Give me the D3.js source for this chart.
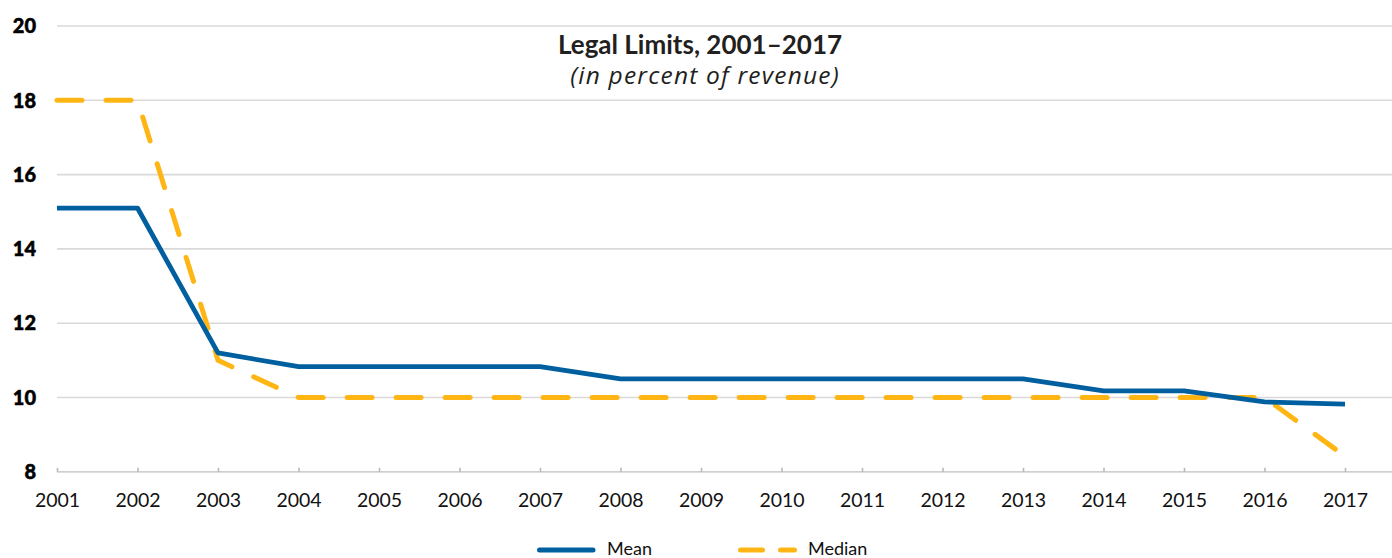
<!DOCTYPE html>
<html>
<head>
<meta charset="utf-8">
<script src="https://cdn.jsdelivr.net/npm/d3@7"></script>
<style>
  html, body { margin: 0; padding: 0; background: #fff; }
  svg { display: block; font-family: Lato, "Open Sans", sans-serif; }
</style>
</head>
<body>
<svg id="chart" width="1392" height="558"></svg>
<script>
// Legal limits in percent of revenue, 2001–2017
const years = [2001, 2002, 2003, 2004, 2005, 2006, 2007, 2008, 2009,
               2010, 2011, 2012, 2013, 2014, 2015, 2016, 2017];
const meanValues = [15.1, 15.1, 11.2, 10.83, 10.83, 10.83, 10.83, 10.5, 10.5,
                    10.5, 10.5, 10.5, 10.5, 10.18, 10.18, 9.88, 9.82];
const medianValues = [18, 18, 11, 10, 10, 10, 10, 10, 10,
                      10, 10, 10, 10, 10, 10, 10, 8.42];
const yTicks = [8, 10, 12, 14, 16, 18, 20];
const seriesNames = ["Mean", "Median"];

const svg = d3.select("#chart");
const W = 1392;
const plotLeft = 57, plotRight = 1345, plotTop = 26, plotBottom = 471.8;

const x = d3.scalePoint().domain(years).range([plotLeft, plotRight]);
const y = d3.scaleLinear().domain([8, 20]).range([plotBottom, plotTop]);

const blue = "#005f9f";
const gold = "#ffb614";

// horizontal gridlines
svg.append("g")
  .selectAll("line")
  .data(yTicks)
  .join("line")
  .attr("x1", plotLeft).attr("x2", W)
  .attr("y1", d => y(d)).attr("y2", d => y(d))
  .attr("stroke", "#d9d9d9")
  .attr("stroke-width", 1.6);

// y-axis labels
svg.append("g")
  .selectAll("text")
  .data(yTicks)
  .join("text")
  .attr("x", 36)
  .attr("y", d => y(d))
  .attr("dy", "0.36em")
  .attr("text-anchor", "end")
  .attr("font-size", 20)
  .attr("font-weight", 900)
  .attr("fill", "#000")
  .attr("stroke", "#000")
  .attr("stroke-width", 0.5)
  .text(d => d);

// x axis
const xAxis = d3.axisBottom(x).tickSizeInner(-4).tickSizeOuter(0).tickPadding(21);
const gx = svg.append("g")
  .attr("transform", `translate(0,${plotBottom})`)
  .call(xAxis);
gx.select(".domain")
  .attr("d", `M${plotLeft},0H${W}`)
  .attr("stroke", "#cfcfcf").attr("stroke-width", 1.6);
gx.selectAll(".tick line").attr("stroke", "#b8b8b8").attr("stroke-width", 1.6);
gx.selectAll(".tick text")
  .attr("font-size", 19.5)
  .attr("font-family", "Lato, sans-serif")
  .attr("fill", "#111");

// series lines
const line = d3.line().x((d, i) => x(years[i])).y(d => y(d));

svg.append("path")
  .datum(medianValues)
  .attr("d", line)
  .attr("fill", "none")
  .attr("stroke", gold)
  .attr("stroke-width", 5)
  .attr("stroke-linecap", "round")
  .attr("stroke-linejoin", "round")
  .attr("stroke-dasharray", "25,24");

svg.append("path")
  .datum(meanValues)
  .attr("d", line)
  .attr("fill", "none")
  .attr("stroke", blue)
  .attr("stroke-width", 4.8)
  .attr("stroke-linejoin", "round");

// title
svg.append("text")
  .attr("x", 700).attr("y", 54)
  .attr("text-anchor", "middle")
  .attr("font-size", 26)
  .attr("font-weight", 700)
  .attr("fill", "#231f20")
  .text("Legal Limits, 2001–2017");
svg.append("text")
  .attr("x", 705).attr("y", 84)
  .attr("text-anchor", "middle")
  .attr("font-family", "'Open Sans', sans-serif")
  .attr("font-size", 24.5)
  .attr("letter-spacing", 1.2)
  .attr("font-style", "italic")
  .attr("fill", "#231f20")
  .text("(in percent of revenue)");

// legend
const legend = svg.append("g");
legend.append("line")
  .attr("x1", 539.5).attr("x2", 593).attr("y1", 550).attr("y2", 550)
  .attr("stroke", blue).attr("stroke-width", 5).attr("stroke-linecap", "round");
legend.append("text")
  .attr("x", 607).attr("y", 555)
  .attr("font-size", 18).attr("fill", "#111")
  .text(seriesNames[0]);
legend.append("line")
  .attr("x1", 740.5).attr("x2", 794.5).attr("y1", 550).attr("y2", 550)
  .attr("stroke", gold).attr("stroke-width", 5).attr("stroke-linecap", "round")
  .attr("stroke-dasharray", "22,18");
legend.append("text")
  .attr("x", 808).attr("y", 555)
  .attr("font-size", 18).attr("fill", "#111")
  .text(seriesNames[1]);
</script>
</body>
</html>
